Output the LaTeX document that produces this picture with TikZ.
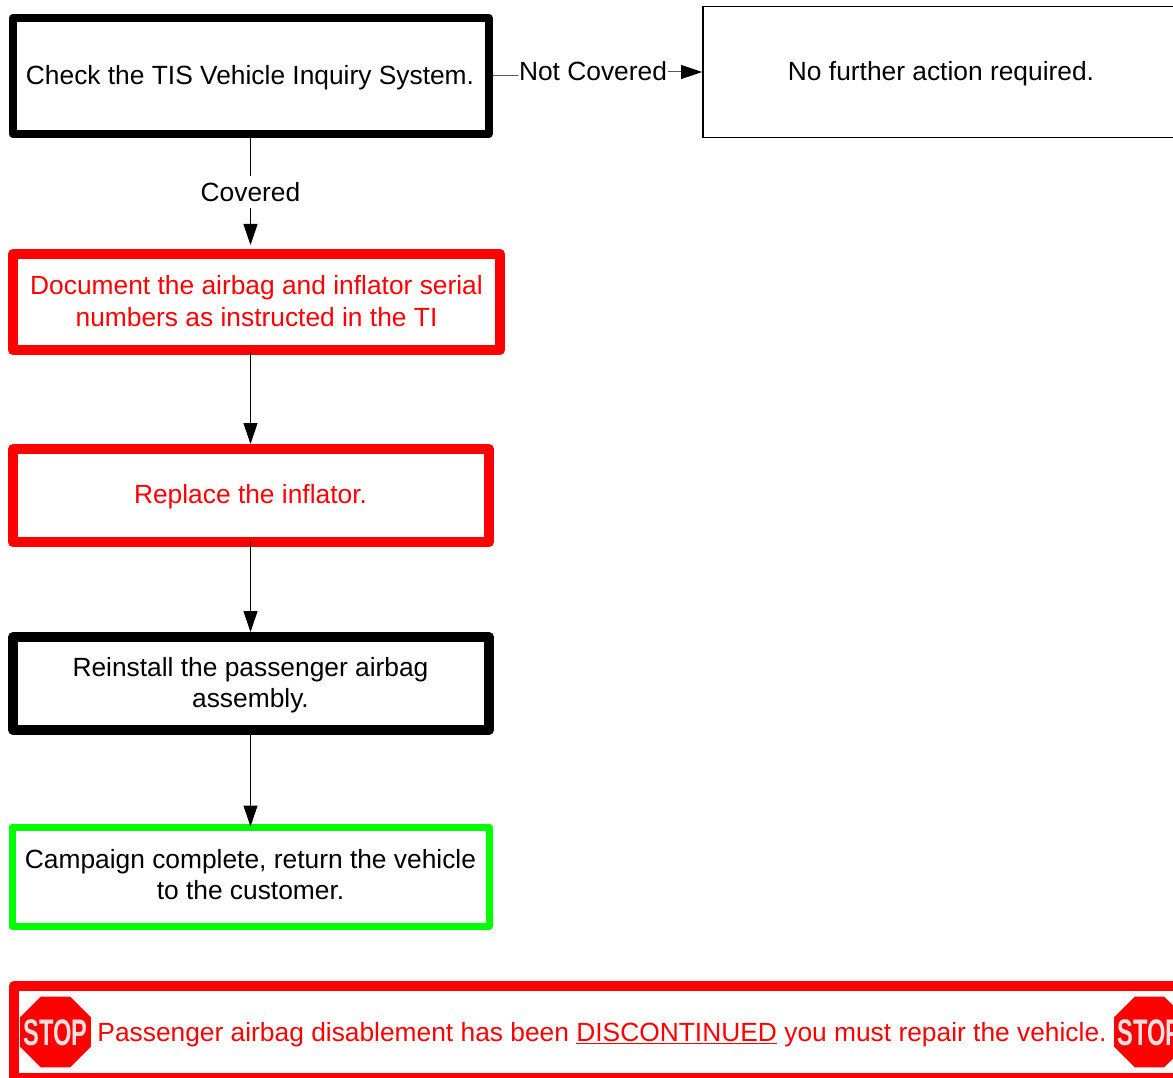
\documentclass[tikz,border=0pt]{standalone}
\usepackage{fontspec}
\setmainfont{Liberation Sans}
\usetikzlibrary{arrows.meta,shapes.geometric}
\definecolor{alertred}{RGB}{255,0,0}
\definecolor{okgreen}{RGB}{0,255,0}
\tikzset{
  stepbox/.style={draw=black,line width=8pt,line join=round,fill=white,inner sep=0pt},
  redbox/.style={stepbox,draw=alertred,line width=10pt},
  greenbox/.style={stepbox,draw=okgreen,line width=7pt},
  plainbox/.style={stepbox,line width=1.8pt,line join=miter},
  boxtext/.style={inner sep=0pt,align=center,font=\fontsize{26.35}{31.5}\selectfont},
  redtext/.style={boxtext,text=alertred},
  conn/.style={draw=black,line width=1pt,-{Triangle[length=21pt,width=14pt,color=black,fill=black]}},
  lab/.style={fill=white,inner xsep=1pt,inner ysep=0pt,font=\fontsize{26.35}{31.5}\selectfont},
  stopsign/.style={regular polygon,regular polygon sides=8,minimum size=76.8pt,fill=alertred,inner sep=0pt},
  stoptext/.style={inner sep=0pt,text=white!88!red,font=\fontsize{37}{37}\selectfont\bfseries},
}
\begin{document}
\begin{tikzpicture}[x=1pt,y=-1pt]
\path[use as bounding box] (0,0) rectangle (1173,1078);
\clip (0,0) rectangle (1173,1078);
\node[stepbox,minimum width=476pt,minimum height=116pt] (check) at (250.5,76) {};
\node[boxtext] (checkt) at (250,78) {Check the TIS Vehicle Inquiry System.};
\node[plainbox,minimum width=520pt,minimum height=131pt] (none) at (963,72) {};
\node[boxtext] (nonet) at (941,74) {No further action required.};
\node[redbox,minimum width=487pt,minimum height=96pt] (doc) at (256.5,302) {};
\node[redtext] (doct) at (256.5,301) {Document the airbag and inflator serial\\numbers as instructed in the TI};
\node[redbox,minimum width=476pt,minimum height=93pt] (replace) at (251,495.5) {};
\node[redtext] (replacet) at (250.5,496.5) {Replace the inflator.};
\node[stepbox,line width=10pt,minimum width=476pt,minimum height=93pt] (reinstall) at (251,683.5) {};
\node[boxtext] (reinstallt) at (250.5,685) {Reinstall the passenger airbag\\assembly.};
\node[greenbox,minimum width=477pt,minimum height=99pt] (done) at (250.5,876.5) {};
\node[boxtext] (donet) at (250.5,874.5) {Campaign complete, return the vehicle\\to the customer.};
\node[redbox,minimum width=1186pt,minimum height=92pt] (warn) at (607,1032) {};
\node[stopsign] (stopa) at (55.5,1032) {};
\node[stoptext] (stopat) at (55.5,1033) {\scalebox{.64}[1]{STOP}};
\node[stopsign] (stopb) at (1149.5,1032) {};
\node[stoptext] (stopbt) at (1149.5,1033) {\scalebox{.64}[1]{STOP}};
\node[redtext] (warntext) at (602,1035) {Passenger airbag disablement has been \underline{DISCONTINUED} you must repair the vehicle.};
% connectors
\coordinate (elbow) at (593,76);
\draw[conn,draw=black!65] (check.east) -- (elbow) -- (elbow |- none.west) -- (none.west);
\node[lab,minimum height=32pt] (notcov) at (593,71) {Not Covered};
\draw[conn,shorten >=4pt] (check.south) -- (check.south |- doc.north);
\node[lab,minimum height=32pt] (cov) at (250.5,192.5) {Covered};
\draw[conn] (doc.south -| check.south) ++(0,4pt) -- (check.south |- replace.north);
\draw[conn] (replace.south -| check.south) ++(0,6pt) -- (check.south |- reinstall.north);
\draw[conn,shorten >=-3pt] (reinstall.south -| check.south) -- (check.south |- done.north);
\end{tikzpicture}
\end{document}
